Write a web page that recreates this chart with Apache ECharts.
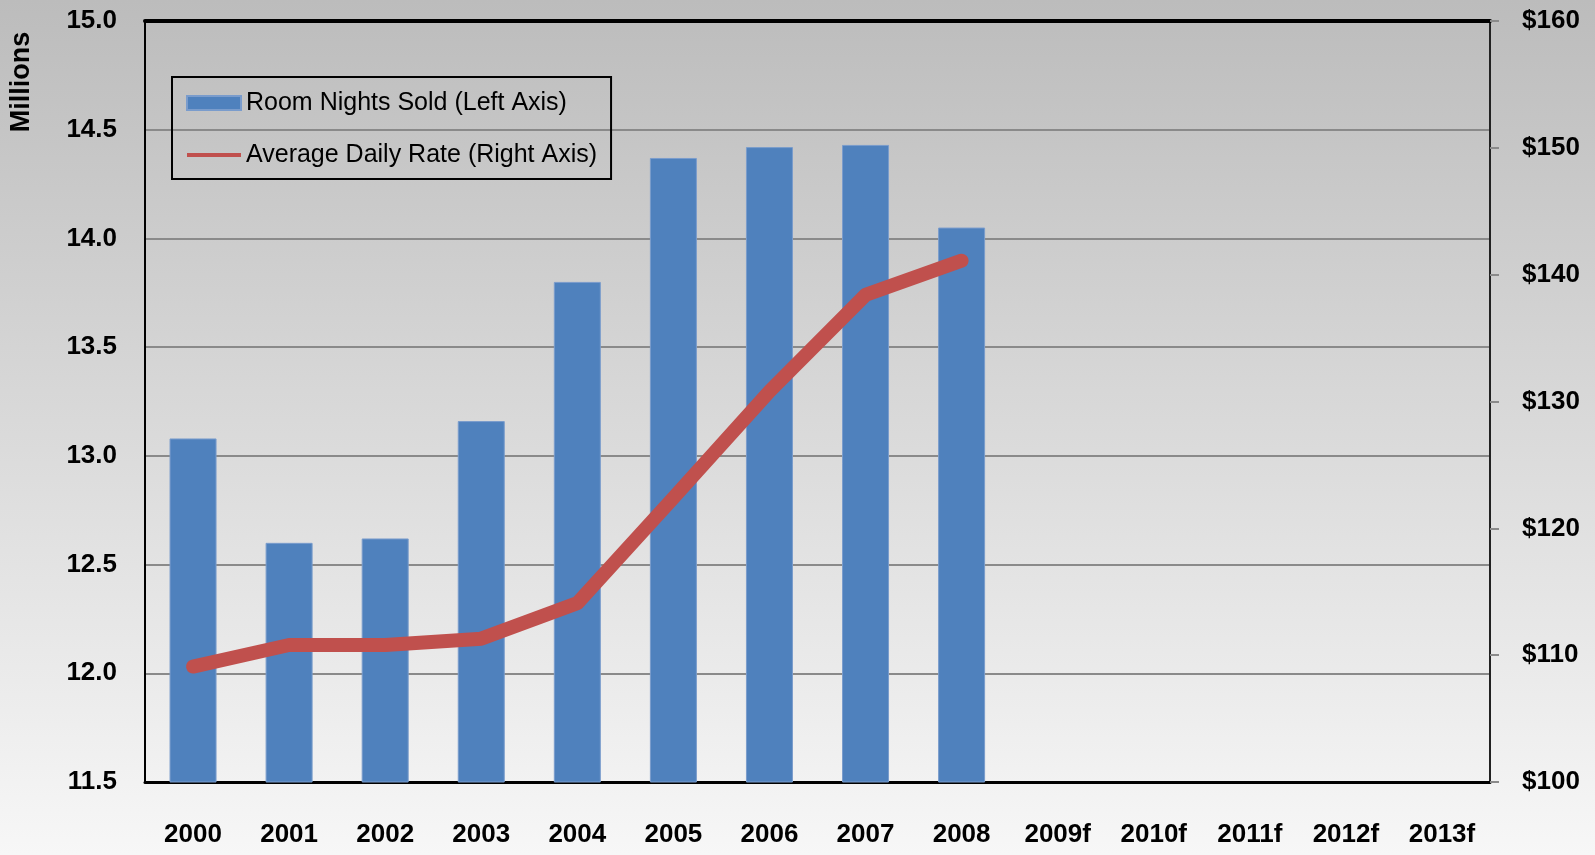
<!DOCTYPE html>
<html>
<head>
<meta charset="utf-8">
<script src="https://cdn.jsdelivr.net/npm/echarts@6/dist/echarts.min.js"></script>
<style>
html,body{margin:0;padding:0;width:1595px;height:855px;overflow:hidden;}
#chart{width:1595px;height:855px;}
</style>
</head>
<body>
<div id="chart"></div>
<script>
const categories = ['2000','2001','2002','2003','2004','2005','2006','2007','2008','2009f','2010f','2011f','2012f','2013f'];
const roomNightsSold = [13.08, 12.60, 12.62, 13.16, 13.80, 14.37, 14.42, 14.43, 14.05, null, null, null, null, null];
const averageDailyRate = [109.1, 110.8, 110.8, 111.3, 114.1, 122.4, 130.8, 138.4, 141.1, null, null, null, null, null];
const barName = 'Room Nights Sold (Left Axis)';
const lineName = 'Average Daily Rate (Right Axis)';
const leftAxisTitle = 'Millions';

const chart = echarts.init(document.getElementById('chart'), null, {renderer: 'canvas'});
const FONT = 'Liberation Sans';
chart.setOption({
  animation: false,
  backgroundColor: new echarts.graphic.LinearGradient(0, 0, 0, 1, [
    {offset: 0, color: '#bcbcbc'},
    {offset: 1, color: '#f7f7f7'}
  ]),
  textStyle: {fontFamily: FONT},
  grid: {left: 145, right: 105, top: 21, bottom: 73, containLabel: false},
  legend: {
    orient: 'vertical',
    left: 172, top: 77,
    padding: [12, 14, 10, 14],
    itemGap: 24,
    itemWidth: 54, itemHeight: 14,
    borderColor: '#000', borderWidth: 2,
    backgroundColor: 'rgba(0,0,0,0)',
    textStyle: {fontFamily: FONT, fontSize: 25, color: '#000', lineHeight: 28, width: 351, padding: [0,0,0,0]},
    data: [
      {name: barName, icon: 'rect'},
      {name: lineName, icon: 'path://M0,0 L0,0 Z M0,5 L54,5 L54,9 L0,9 Z M54,14 L54,14 Z', itemStyle: {color: '#c0504d'}}
    ]
  },
  graphic: [{
    type: 'text',
    x: 22, y: 82,
    rotation: Math.PI / 2,
    style: {text: leftAxisTitle, font: 'bold 27px "Liberation Sans"', fill: '#000', align: 'center', verticalAlign: 'middle'}
  }],
  xAxis: [{
    type: 'category',
    data: categories,
    position: 'bottom',
    axisLine: {lineStyle: {color: '#000', width: 3}},
    axisTick: {show: false},
    axisLabel: {fontFamily: FONT, fontWeight: 'bold', fontSize: 26, color: '#000', margin: 40, interval: 0}
  }, {
    type: 'category',
    data: categories,
    position: 'top',
    axisLine: {show: true, lineStyle: {color: '#000', width: 4}},
    axisTick: {show: false},
    axisLabel: {show: false}
  }],
  yAxis: [{
    type: 'value',
    min: 11.5, max: 15, interval: 0.5,
    position: 'left',
    axisLine: {show: true, lineStyle: {color: '#000', width: 2}},
    axisTick: {show: false},
    splitLine: {lineStyle: {color: '#8a8a8a', width: 2}},
    axisLabel: {fontFamily: FONT, fontWeight: 'bold', fontSize: 26, color: '#000', margin: 28,
      formatter: v => v.toFixed(1)}
  }, {
    type: 'value',
    min: 100, max: 160, interval: 10,
    position: 'right',
    axisLine: {show: true, lineStyle: {color: '#222', width: 2}},
    axisTick: {show: true, inside: false, length: 9, lineStyle: {color: '#8a8a8a', width: 2}},
    splitLine: {show: false},
    axisLabel: {fontFamily: FONT, fontWeight: 'bold', fontSize: 26, color: '#000', margin: 32,
      formatter: v => '$' + v}
  }],
  series: [{
    name: barName,
    type: 'bar',
    xAxisIndex: 0, yAxisIndex: 0,
    data: roomNightsSold,
    barWidth: 47,
    itemStyle: {color: '#4f81bd', borderColor: '#7a9ccc', borderWidth: 1}
  }, {
    name: lineName,
    type: 'line',
    xAxisIndex: 0, yAxisIndex: 1,
    data: averageDailyRate,
    symbol: 'none',
    z: 5,
    lineStyle: {color: '#c0504d', width: 14, cap: 'round', join: 'round'},
    itemStyle: {color: '#c0504d'}
  }]
});
</script>
</body>
</html>
